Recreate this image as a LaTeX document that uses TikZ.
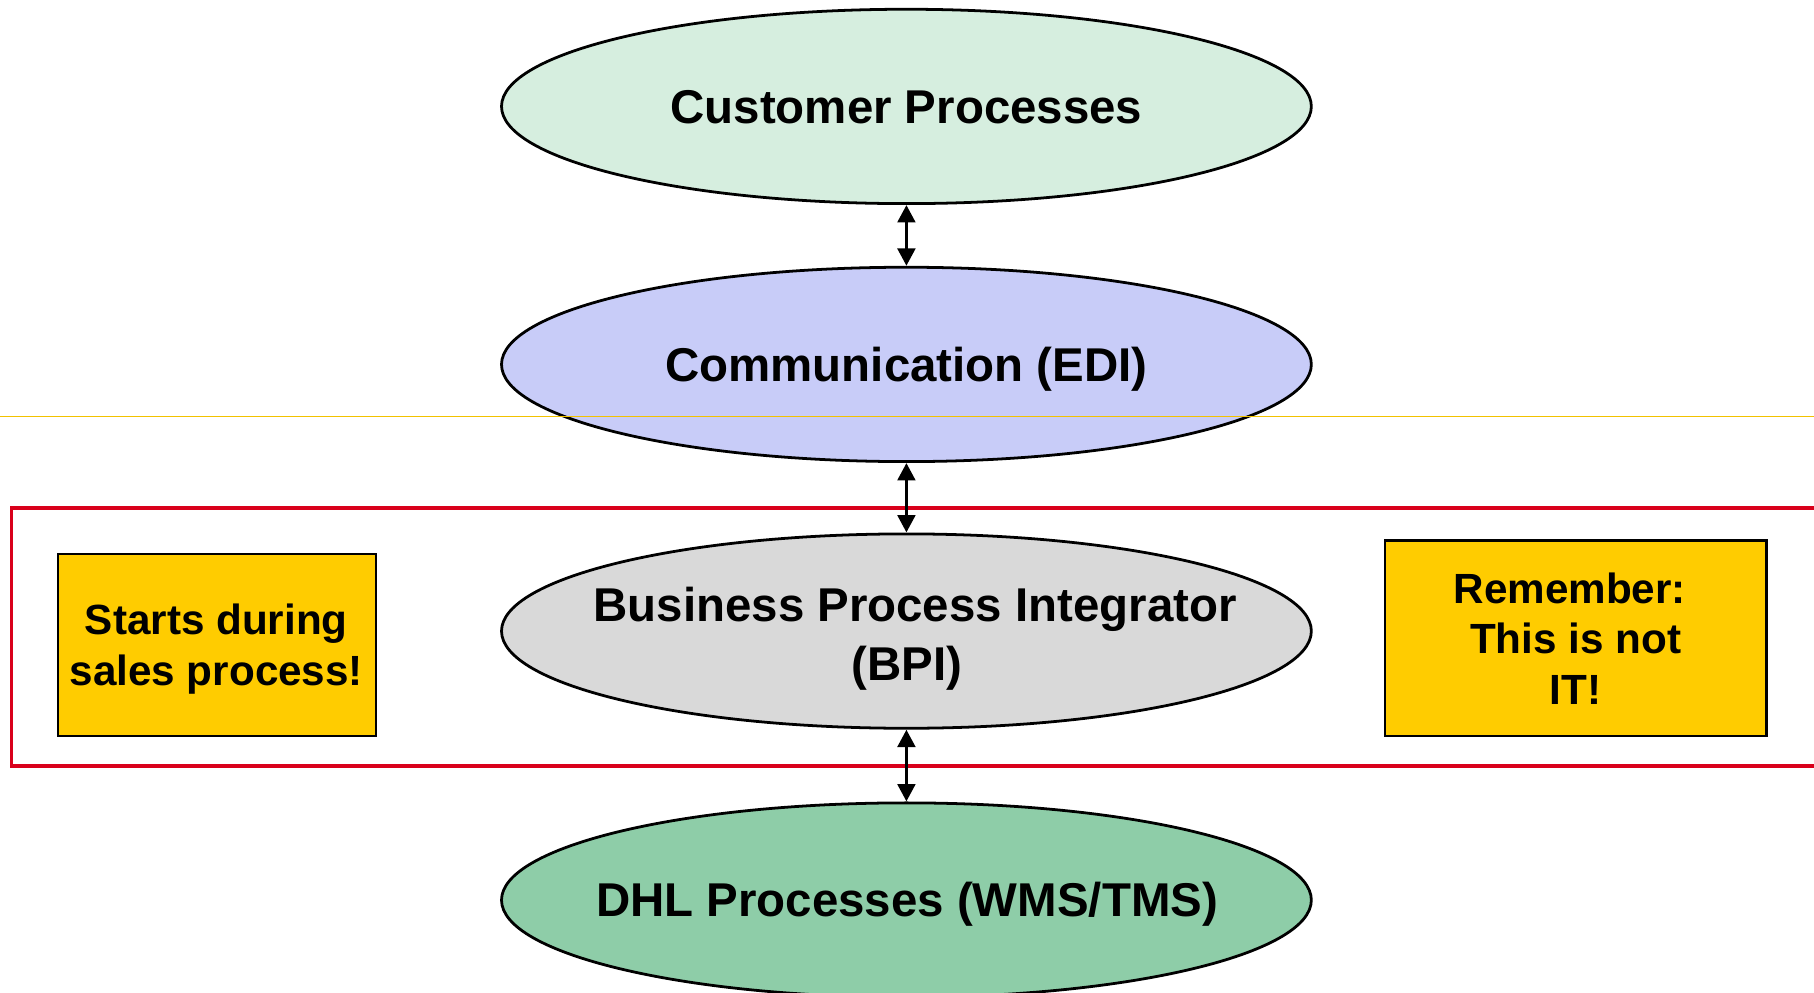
\documentclass[tikz,border=0pt]{standalone}
\usepackage{fontspec}
\setmainfont{Liberation Sans}
\usetikzlibrary{shapes.geometric,arrows.meta}
\definecolor{custfill}{HTML}{D6EEDF}
\definecolor{commfill}{HTML}{C8CCF8}
\definecolor{bpifill}{HTML}{D9D9D9}
\definecolor{dhlfill}{HTML}{8ECDA8}
\definecolor{noteyellow}{HTML}{FFCC00}
\definecolor{framered}{HTML}{D9001B}
\definecolor{goldline}{HTML}{F2C200}
\begin{document}
\begin{tikzpicture}[x=1pt,y=-1pt,
  proc/.style={ellipse,draw=black,line width=2.4pt,minimum width=700pt,minimum height=168pt,inner sep=0pt},
  proctext/.style={inner sep=0pt,font=\fontsize{41}{51}\selectfont\bfseries,align=center},
  note/.style={draw=black,line width=2.2pt,fill=noteyellow,inner sep=0pt},
  notetext/.style={inner sep=0pt,font=\fontsize{36.5}{44}\selectfont\bfseries,align=center},
  link/.style={{Triangle[width=15pt,length=15pt]}-{Triangle[width=15pt,length=15pt]},line width=3.2pt},
  framebox/.style={draw=framered,line width=3.2pt,inner sep=0pt},
  sepline/.style={draw=goldline,line width=1.2pt}]
\useasboundingbox (0,0) rectangle (1568,858);
\node[framebox,minimum width=1590pt,minimum height=223pt] (frame) at (805,550.5) {};
\node[proc,fill=custfill] (cust) at (783.5,92) {};
\node[proc,fill=commfill] (comm) at (783.5,315) {};
\node[proc,fill=bpifill] (bpi) at (783.5,545.5) {};
\node[proc,fill=dhlfill] (dhl) at (783.5,778) {};
\node[proctext] (custt) at (783.5,93) {Customer Processes};
\node[proctext] (commt) at (783.5,319) {Communication (EDI)};
\node[proctext] (bpit) at (784,552) {\hspace*{14pt}Business Process Integrator\\(BPI)};
\node[proctext] (dhlt) at (784,782) {DHL Processes (WMS/TMS)};
\coordinate (gl) at (0,360);
\coordinate (gr) at (1568,360);
\draw[sepline] (gl) -- (gr);
\node[note,minimum width=275pt,minimum height=157pt] (left) at (187.5,557.5) {};
\node[note,minimum width=330pt,minimum height=169pt] (right) at (1362,551.5) {};
\node[notetext] (leftt) at (187,561) {Starts during\\sales process!};
\node[notetext] (rightt) at (1362,552) {Remember:\hspace*{0.28em}\\This is not\\IT!};
\draw[link] (cust) -- (comm);
\draw[link] (comm) -- (bpi);
\draw[link] (bpi) -- (dhl);
\end{tikzpicture}
\end{document}
